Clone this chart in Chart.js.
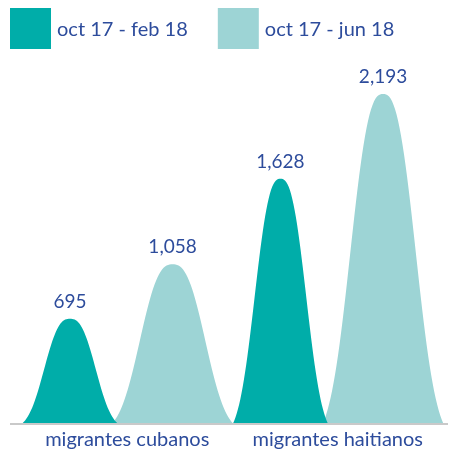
<!DOCTYPE html>
<html>
<script src="https://cdn.jsdelivr.net/npm/chart.js@4.4.0/dist/chart.umd.min.js"></script>
<body style="margin:0;background:#fff">

<canvas id="myChart" width="451" height="451"></canvas>

<script>
var categories = ["migrantes cubanos", "migrantes haitianos"];
var seriesNames = ["oct 17 - feb 18", "oct 17 - jun 18"];
var febValues = [695, 1628];
var junValues = [1058, 2193];

var dark = "#00ADA9";
var light = "#9DD4D5";
var ink = "#2D4C9C";
var fontName = "Lato";

// bell profile, t in [-1,1] -> height fraction 0..1
function bell(t) {
	var e1 = Math.exp(-Math.pow(1 / 0.66, 2.6));
	var v = Math.exp(-Math.pow(Math.abs(t) / 0.66, 2.6));
	return Math.max(0, (v - e1) / (1 - e1));
}

var bellPlugin = {
	id: 'bells',
	beforeDatasetsDraw: function (chart) {
		var ctx = chart.ctx;
		var yScale = chart.scales.y;
		var base = yScale.getPixelForValue(0);
		// light series behind the dark one
		[1, 0].forEach(function (di) {
			var ds = chart.data.datasets[di];
			var meta = chart.getDatasetMeta(di);
			meta.data.forEach(function (bar) {
				var half = bar.width * ds.bellSpread / 2;
				var h = base - bar.y;
				ctx.save();
				ctx.beginPath();
				ctx.moveTo(bar.x - half, base);
				for (var k = 0; k <= 80; k++) {
					var t = -1 + 2 * k / 80;
					ctx.lineTo(bar.x + t * half, base - bell(t) * h);
				}
				ctx.closePath();
				ctx.fillStyle = ds.backgroundColor;
				ctx.fill();
				ctx.restore();
			});
		});
		// value labels
		chart.data.datasets.forEach(function (ds, di) {
			chart.getDatasetMeta(di).data.forEach(function (bar, i) {
				ctx.save();
				ctx.font = "19px " + fontName;
				ctx.fillStyle = ink;
				ctx.textAlign = "center";
				ctx.textBaseline = "alphabetic";
				ctx.fillText(ds.data[i].toLocaleString("en-US"), bar.x, bar.y - 11);
				ctx.restore();
			});
		});
		// baseline
		ctx.save();
		ctx.strokeStyle = "#C9C9C9";
		ctx.lineWidth = 2;
		ctx.beginPath();
		ctx.moveTo(chart.chartArea.left - 6, base + 1);
		ctx.lineTo(chart.chartArea.right + 11, base + 1);
		ctx.stroke();
		ctx.restore();
		return false;
	}
};

var legendPlugin = {
	id: 'squareLegend',
	afterDraw: function (chart) {
		var ctx = chart.ctx;
		var x = 10;
		ctx.save();
		ctx.font = "20px " + fontName;
		ctx.textBaseline = "middle";
		chart.data.datasets.forEach(function (ds) {
			ctx.fillStyle = ds.backgroundColor;
			ctx.fillRect(x, 8, 41, 41);
			ctx.fillStyle = ink;
			ctx.fillText(ds.label, x + 47, 30);
			x += 41 + 6 + ctx.measureText(ds.label).width + 30;
		});
		ctx.restore();
	}
};

new Chart("myChart", {
	type: 'bar',
	data: {
		labels: categories,
		datasets: [{
			label: seriesNames[0],
			data: febValues,
			backgroundColor: dark,
			bellSpread: 0.92
		}, {
			label: seriesNames[1],
			data: junValues,
			backgroundColor: light,
			bellSpread: 1.17
		}]
	},
	options: {
		responsive: false,
		animation: false,
		layout: { padding: { top: 48, left: 16, right: 14, bottom: -6 } },
		categoryPercentage: 0.975,
		barPercentage: 1,
		plugins: {
			legend: { display: false },
			tooltip: { enabled: false }
		},
		scales: {
			x: {
				grid: { display: false, drawTicks: false },
				border: { display: false },
				ticks: {
					color: ink,
					font: { family: fontName, size: 20 },
					padding: 5,
					labelOffset: 6
				}
			},
			y: {
				display: false,
				min: 0,
				max: 2500
			}
		}
	},
	plugins: [bellPlugin, legendPlugin]
});
</script>

</body>
</html>
